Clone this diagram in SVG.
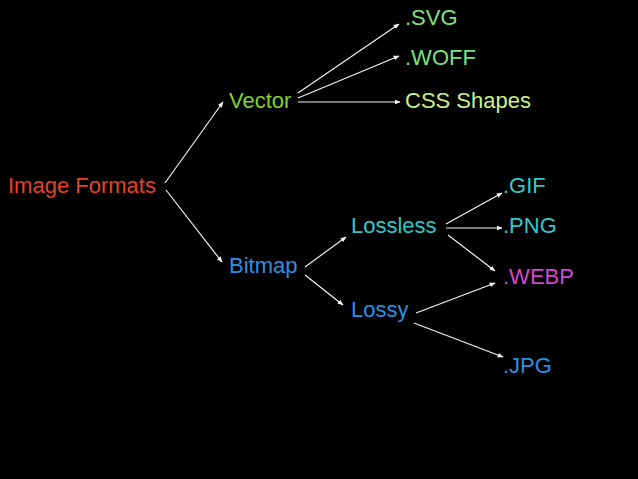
<svg xmlns="http://www.w3.org/2000/svg" width="638" height="479" viewBox="0 0 638 479">
<style>
text{font-family:"Liberation Sans",Arial,sans-serif;font-size:22px}
.c{stroke:#f2f2f2;stroke-width:1.2;fill:none;marker-end:url(#a)}
</style>
<defs>
<marker id="a" viewBox="0 0 10 10" refX="9" refY="5" markerWidth="6" markerHeight="6" markerUnits="userSpaceOnUse" orient="auto">
<path d="M0,1L10,5L0,9z" fill="#f2f2f2"/>
</marker>
</defs>
<rect width="638" height="479" fill="#000"/>
<g id="connectors">
<line class="c" x1="165" y1="183" x2="223" y2="102"/>
<line class="c" x1="166" y1="190" x2="222" y2="262"/>
<line class="c" x1="298" y1="93" x2="399" y2="24"/>
<line class="c" x1="298" y1="98" x2="399" y2="56"/>
<line class="c" x1="298" y1="102" x2="400" y2="102"/>
<line class="c" x1="305" y1="267" x2="346" y2="237"/>
<line class="c" x1="305" y1="275" x2="343" y2="305"/>
<line class="c" x1="446" y1="224" x2="502" y2="193"/>
<line class="c" x1="446" y1="228" x2="502" y2="228"/>
<line class="c" x1="448" y1="235" x2="495" y2="271"/>
<line class="c" x1="416" y1="313" x2="495" y2="283"/>
<line class="c" x1="414" y1="323" x2="503" y2="357"/>
</g>
<g id="image-formats"><text x="8" y="193" fill="#e5412b">Image Formats</text></g>
<g id="vector"><text x="229" y="108" fill="#7fd42a">Vector</text></g>
<g id="svg"><text x="405" y="25" fill="#7ee07e">.SVG</text></g>
<g id="woff"><text x="405" y="65" fill="#7ee07e">.WOFF</text></g>
<g id="css-shapes"><text x="405" y="108" fill="#cdf08c">CSS Shapes</text></g>
<g id="bitmap"><text x="229" y="273" fill="#2d8fe0">Bitmap</text></g>
<g id="lossless"><text x="351" y="233" fill="#35c6c8">Lossless</text></g>
<g id="lossy"><text x="351" y="317" fill="#2d8fe0">Lossy</text></g>
<g id="gif"><text x="503" y="193" fill="#35c6c8">.GIF</text></g>
<g id="png"><text x="503" y="233" fill="#35c6c8">.PNG</text></g>
<g id="webp"><text x="503" y="284" fill="#d447d4">.WEBP</text></g>
<g id="jpg"><text x="503" y="373" fill="#2d8fe0">.JPG</text></g>
</svg>
